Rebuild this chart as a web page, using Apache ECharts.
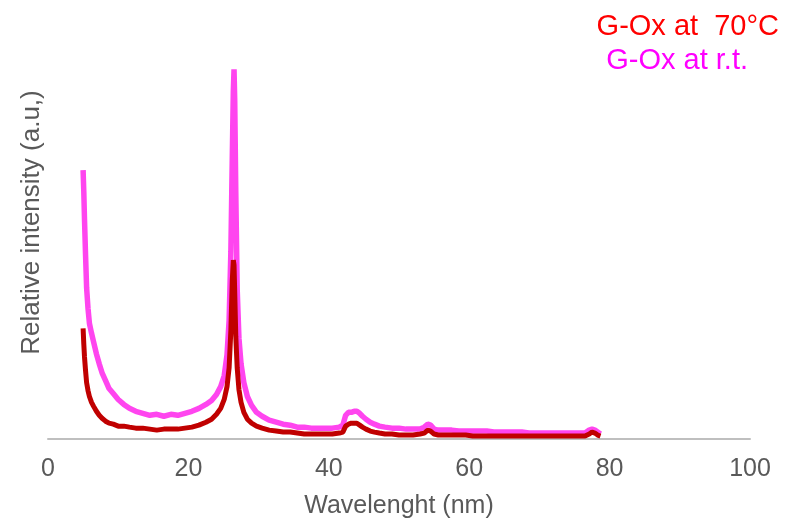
<!DOCTYPE html>
<html>
<head>
<meta charset="utf-8">
<script src="https://cdn.jsdelivr.net/npm/echarts@6/dist/echarts.min.js"></script>
<style>
  html, body { margin: 0; padding: 0; background: #fff; }
  #chart { width: 785px; height: 524px; }
</style>
</head>
<body>
<div id="chart"></div>
<script>
// wavelength (nm) sample points
var wavelength = [5.0, 5.1, 5.2, 5.35, 5.5, 5.7, 5.9, 6.2, 6.5, 6.9, 7.3, 7.7, 8.2, 8.7, 9.3, 10, 10.8, 11.6, 12.5, 13.5,
  14.5, 15.5, 16.5, 17.5, 18.5, 19.5, 20.5, 21.5, 22.5, 23.3, 24, 24.6, 25.1, 25.5, 25.8, 26.05, 26.25, 26.4, 26.5, 26.6,
  26.75, 26.95, 27.2, 27.5, 27.9, 28.4, 29, 29.7, 30.5, 31.5, 32.5, 33.5, 34.5, 35.5, 36.5, 37.5, 38.5, 39.5, 40.5, 41.5,
  42, 42.4, 42.8, 43.2, 43.6, 44, 44.4, 44.8, 45.3, 45.9, 46.5, 47.2, 48, 49, 50, 51, 52, 53, 53.6, 54.1,
  54.5, 55, 55.6, 56.5, 57.5, 58.5, 59.5, 60.5, 61.5, 62.5, 63.5, 64.5, 65.5, 66.5, 67.5, 68.5, 69.5, 70.5, 71.5, 72.5,
  73.5, 74.5, 75.5, 76.5, 77.1, 77.5, 77.9, 78.3, 78.7];

// G-Ox at r.t.
var rtValues = [272, 250, 222, 186, 153, 132, 117, 107, 98, 86, 76, 67, 59, 51, 46, 40, 35, 31, 28, 26,
  24, 25, 23, 25, 24, 26, 28, 31, 35, 39, 45, 53, 64, 85, 120, 190, 285, 352, 374, 342,
  250, 152, 102, 76, 57, 43, 34, 27, 23, 19, 17, 15, 14, 12, 12, 11, 11, 11, 11, 12,
  14, 24, 27, 27, 28, 28, 26, 23, 20, 17, 15, 13, 12, 11, 11, 10, 10, 10, 12, 15,
  14, 10, 9, 9, 9, 8, 8, 8, 8, 8, 7, 7, 7, 7, 7, 6, 6, 6, 6, 6,
  6, 6, 6, 6, 9, 10, 9, 7, 5];

// G-Ox at 70°C
var hotValues = [112, 96, 83, 69, 57, 49, 43, 37, 33, 28, 24, 21, 18, 16, 15, 13, 13, 12, 11, 11,
  10, 9, 10, 10, 10, 11, 12, 14, 17, 20, 25, 31, 40, 53, 72, 110, 160, 181, 176, 148,
  104, 72, 50, 37, 27, 20, 16, 13, 11, 9, 8, 7, 7, 6, 5, 5, 5, 5, 5, 6,
  7, 13, 15, 16, 16, 16, 14, 12, 10, 8, 7, 6, 5, 5, 4, 4, 4, 5, 6, 9,
  8, 5, 4, 4, 4, 4, 4, 3, 3, 3, 3, 3, 3, 3, 3, 3, 3, 3, 3, 3,
  3, 3, 3, 3, 5, 7, 6, 4, 3];

var xTicks = [0, 20, 40, 60, 80, 100];

function pairs(xs, ys) {
  return xs.map(function (x, i) { return [x, ys[i]]; });
}

var chart = echarts.init(document.getElementById('chart'));
chart.setOption({
  animation: false,
  textStyle: { fontFamily: 'Liberation Sans, Arial, sans-serif' },
  grid: { left: 48, right: 35, top: 6, bottom: 80 },
  legend: [
    {
      data: ['G-Ox at  70°C'],
      icon: 'none', itemWidth: 0, itemHeight: 10,
      right: 1, top: 7,
      textStyle: { color: '#ff0000', fontSize: 29 }
    },
    {
      data: ['G-Ox at r.t.'],
      icon: 'none', itemWidth: 0, itemHeight: 10,
      right: 32, top: 41,
      textStyle: { color: '#ff00ff', fontSize: 29 }
    }
  ],
  xAxis: {
    type: 'value',
    min: xTicks[0],
    max: xTicks[xTicks.length - 1],
    interval: 20,
    name: 'Wavelenght (nm)',
    nameLocation: 'middle',
    nameGap: 55,
    nameTextStyle: { color: '#595959', fontSize: 25 },
    axisLine: { lineStyle: { color: '#bfbfbf', width: 2 } },
    axisTick: { show: false },
    splitLine: { show: false },
    axisLabel: { color: '#595959', fontSize: 25, margin: 18 }
  },
  yAxis: {
    type: 'value',
    min: 0,
    max: 438,
    name: 'Relative intensity (a.u,)',
    nameLocation: 'middle',
    nameGap: 3,
    nameTextStyle: { color: '#595959', fontSize: 26 },
    axisLine: { show: false },
    axisTick: { show: false },
    axisLabel: { show: false },
    splitLine: { show: false }
  },
  series: [
    {
      name: 'G-Ox at r.t.',
      type: 'line',
      showSymbol: false,
      color: '#ff45ef',
      lineStyle: { color: '#ff45ef', width: 5.5 },
      data: pairs(wavelength, rtValues)
    },
    {
      name: 'G-Ox at  70°C',
      type: 'line',
      showSymbol: false,
      color: '#c00000',
      lineStyle: { color: '#c00000', width: 5 },
      data: pairs(wavelength, hotValues)
    }
  ]
});
</script>
</body>
</html>
